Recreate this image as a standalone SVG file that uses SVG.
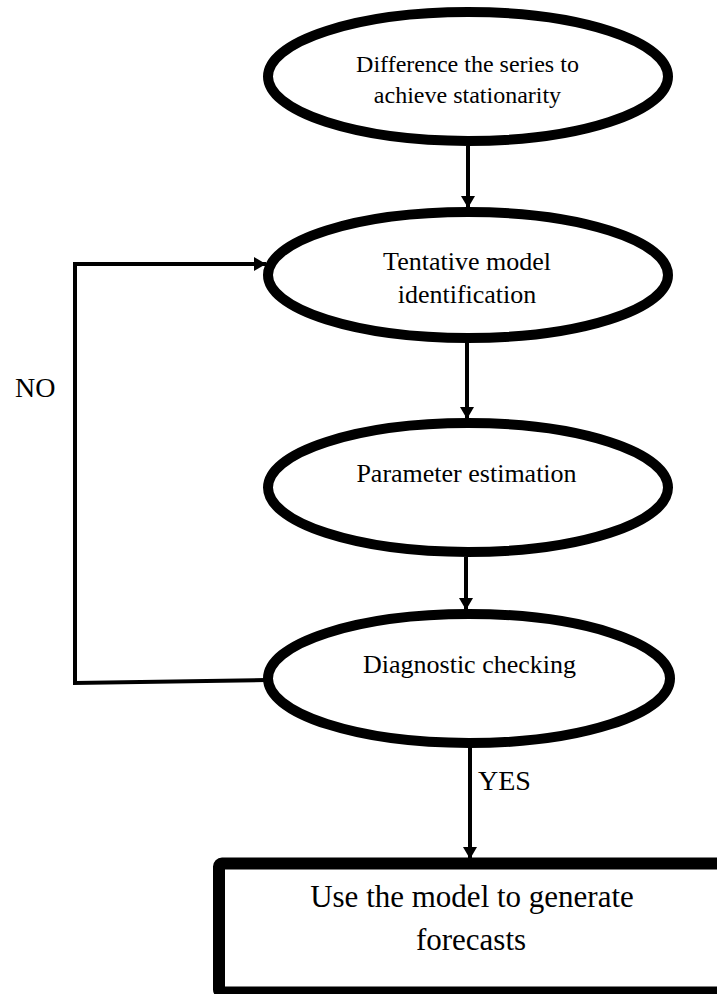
<svg xmlns="http://www.w3.org/2000/svg" width="717" height="994" viewBox="0 0 717 994">
  <style>
    .node { fill: #fff; stroke: #000; stroke-width: 10; }
    .box { fill: #fff; stroke: #000; stroke-width: 12; }
    .conn { fill: none; stroke: #000; stroke-width: 4; }
    text { font-family: "Liberation Serif", "Times New Roman", serif; fill: #000; text-anchor: middle; }
    .t24 { font-size: 24px; }
    .t26 { font-size: 26px; }
    .t31 { font-size: 31px; }
    .lbl { font-size: 28px; text-anchor: start; }
  </style>
  <defs>
    <marker id="arrow" markerUnits="userSpaceOnUse" markerWidth="14" markerHeight="14" refX="12" refY="7" orient="auto">
      <path d="M0,0 L12,7 L0,14 z" fill="#000"/>
    </marker>
  </defs>

  <rect width="717" height="994" fill="#fff"/>

  <g id="connectors">
    <line class="conn" x1="468" y1="146" x2="468" y2="208" marker-end="url(#arrow)"/>
    <line class="conn" x1="467" y1="343" x2="467" y2="419" marker-end="url(#arrow)"/>
    <line class="conn" x1="466" y1="557" x2="466" y2="610" marker-end="url(#arrow)"/>
    <line class="conn" x1="470" y1="748" x2="470" y2="859" marker-end="url(#arrow)"/>
    <path class="conn" d="M266,680 L75,683 L75,264 L266,264" marker-end="url(#arrow)"/>
    <text class="lbl" x="15" y="397">NO</text>
    <text class="lbl" x="478" y="790">YES</text>
  </g>

  <g id="node-difference">
    <ellipse class="node" cx="468" cy="76.5" rx="200" ry="64.5"/>
    <text class="t24" x="467.5" y="72">Difference the series to</text>
    <text class="t24" x="467.5" y="103">achieve stationarity</text>
  </g>

  <g id="node-identification">
    <ellipse class="node" cx="468" cy="275" rx="200" ry="63"/>
    <text class="t26" x="467" y="270">Tentative model</text>
    <text class="t26" x="467" y="303">identification</text>
  </g>

  <g id="node-estimation">
    <ellipse class="node" cx="468" cy="487.5" rx="200" ry="64.5"/>
    <text class="t26" x="466.5" y="482">Parameter estimation</text>
  </g>

  <g id="node-checking">
    <ellipse class="node" cx="469" cy="678.5" rx="201" ry="64.5"/>
    <text class="t26" x="469.5" y="673">Diagnostic checking</text>
  </g>

  <g id="node-forecast">
    <rect class="box" x="219" y="863.5" width="520" height="129" rx="3"/>
    <text class="t31" x="472" y="907">Use the model to generate</text>
    <text class="t31" x="471" y="950">forecasts</text>
  </g>
</svg>
